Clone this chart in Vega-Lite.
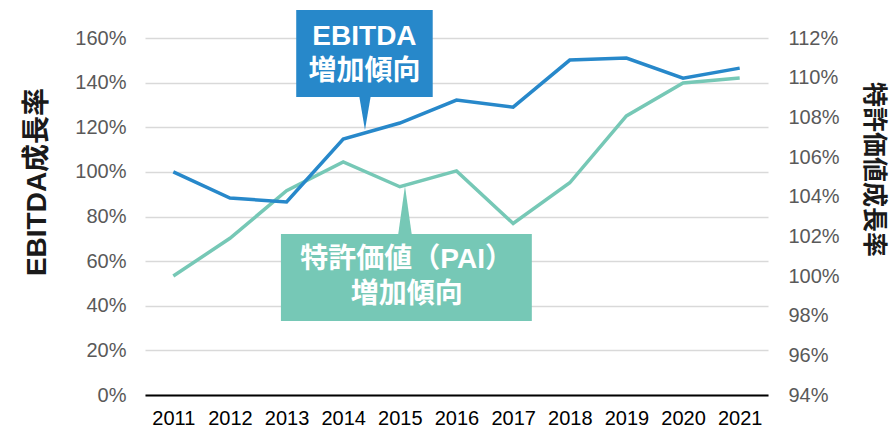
{
  "$schema": "https://vega.github.io/schema/vega-lite/v6.json",
  "autosize": "none",
  "width": 623,
  "height": 357,
  "padding": {"left": 145, "top": 38, "right": 126, "bottom": 34},
  "background": "white",
  "config": {"view": {"stroke": null}, "font": "Liberation Sans, Noto Sans CJK JP"},
  "datasets": {
    "series": [
      {"year": 2011, "ebitda": 100.0, "pai": 100.0},
      {"year": 2012, "ebitda": 88.3, "pai": 101.9},
      {"year": 2013, "ebitda": 86.5, "pai": 104.3},
      {"year": 2014, "ebitda": 114.7, "pai": 105.75},
      {"year": 2015, "ebitda": 121.9, "pai": 104.5},
      {"year": 2016, "ebitda": 132.2, "pai": 105.3},
      {"year": 2017, "ebitda": 129.0, "pai": 102.65},
      {"year": 2018, "ebitda": 150.1, "pai": 104.7},
      {"year": 2019, "ebitda": 151.0, "pai": 108.07},
      {"year": 2020, "ebitda": 142.0, "pai": 109.73},
      {"year": 2021, "ebitda": 146.5, "pai": 109.98}
    ],
    "boxes": [
      {"series": "EBITDA", "x1": 2013.17, "x2": 2015.58, "y1": 133.6, "y2": 172.5},
      {"series": "PAI", "x1": 2012.9, "x2": 2017.33, "y1": 33.2, "y2": 72.2}
    ],
    "labels": [
      {"x": 2014.375, "y": 160.4, "text": "EBITDA"},
      {"x": 2014.375, "y": 144.8, "text": "増加傾向"},
      {"x": 2015.12, "y": 60.5, "text": "特許価値（PAI）"},
      {"x": 2015.12, "y": 44.8, "text": "増加傾向"}
    ],
    "pointerDown": [{"series": "EBITDA", "x": 2014.384, "y": 126.6}],
    "pointerUp": [{"series": "PAI", "x": 2015.09, "y": 82.5}]
  },
  "layer": [
    {
      "data": {"name": "series"},
      "mark": {"type": "line", "color": "#76C8B6", "strokeWidth": 3.5},
      "encoding": {
        "x": {"field": "year", "type": "quantitative",
              "scale": {"domain": [2010.5, 2021.5], "nice": false, "zero": false},
              "axis": {"values": [2011,2012,2013,2014,2015,2016,2017,2018,2019,2020,2021], "format": "d",
                       "title": null, "grid": false, "ticks": false, "domainColor": "#000000", "domainWidth": 2,
                       "labelColor": "#000000", "labelFontSize": 20, "labelPadding": 13, "labelFont": "Liberation Sans"}},
        "y": {"field": "pai", "type": "quantitative",
              "scale": {"domain": [94, 112], "nice": false, "zero": false},
              "axis": {"orient": "right", "values": [94,96,98,100,102,104,106,108,110,112],
                       "labelExpr": "datum.value + '%'", "grid": false, "domain": false, "ticks": false,
                       "labelColor": "#595959", "labelFontSize": 20, "labelPadding": 20, "labelFont": "Liberation Sans",
                       "title": "特許価値成長率", "titleFontSize": 25, "titleFontWeight": "bold", "titleColor": "#1a1a1a",
                       "titleFont": "Noto Sans CJK JP", "titleAngle": 90, "titleX": 105, "titleY": 131,
                       "titleBaseline": "middle", "titleAlign": "center"}}
      }
    },
    {
      "layer": [
        {
          "data": {"name": "series"},
          "mark": {"type": "line", "color": "#2788CA", "strokeWidth": 3.5},
          "encoding": {
            "x": {"field": "year", "type": "quantitative"},
            "y": {"field": "ebitda", "type": "quantitative",
                  "scale": {"domain": [0, 160], "nice": false},
                  "axis": {"orient": "left", "values": [0,20,40,60,80,100,120,140,160],
                           "labelExpr": "datum.value + '%'", "grid": true, "gridColor": "#d9d9d9", "gridWidth": 1.5,
                           "domain": false, "ticks": false,
                           "labelColor": "#595959", "labelFontSize": 20, "labelPadding": 19, "labelFont": "Liberation Sans",
                           "title": "EBITDA成長率", "titleFontSize": 28, "titleFontWeight": "bold", "titleColor": "#1a1a1a",
                           "titleAngle": -90, "titleX": -108, "titleY": 143.5,
                           "titleBaseline": "middle", "titleAlign": "center"}}
          }
        },
        {
          "data": {"name": "boxes"},
          "mark": {"type": "rect"},
          "encoding": {
            "x": {"field": "x1", "type": "quantitative"},
            "x2": {"field": "x2"},
            "y": {"field": "y1", "type": "quantitative"},
            "y2": {"field": "y2"},
            "color": {"field": "series", "type": "nominal",
                      "scale": {"domain": ["EBITDA", "PAI"], "range": ["#2788CA", "#76C8B6"]}, "legend": null}
          }
        },
        {
          "data": {"name": "pointerDown"},
          "mark": {"type": "point", "filled": true, "opacity": 1, "shape": "M-0.34,-1L0.34,-1L0,1Z", "size": 1225},
          "encoding": {
            "x": {"field": "x", "type": "quantitative"},
            "y": {"field": "y", "type": "quantitative"},
            "color": {"field": "series", "type": "nominal", "legend": null}
          }
        },
        {
          "data": {"name": "pointerUp"},
          "mark": {"type": "point", "filled": true, "opacity": 1, "shape": "M0,-1L0.28,1L-0.28,1Z", "size": 2500},
          "encoding": {
            "x": {"field": "x", "type": "quantitative"},
            "y": {"field": "y", "type": "quantitative"},
            "color": {"field": "series", "type": "nominal", "legend": null}
          }
        },
        {
          "data": {"name": "labels"},
          "mark": {"type": "text", "color": "white", "fontSize": 28, "fontWeight": "bold",
                   "font": "Liberation Sans, Noto Sans CJK JP", "baseline": "middle", "align": "center"},
          "encoding": {
            "x": {"field": "x", "type": "quantitative"},
            "y": {"field": "y", "type": "quantitative"},
            "text": {"field": "text"}
          }
        }
      ]
    }
  ],
  "resolve": {"scale": {"y": "independent"}}
}
